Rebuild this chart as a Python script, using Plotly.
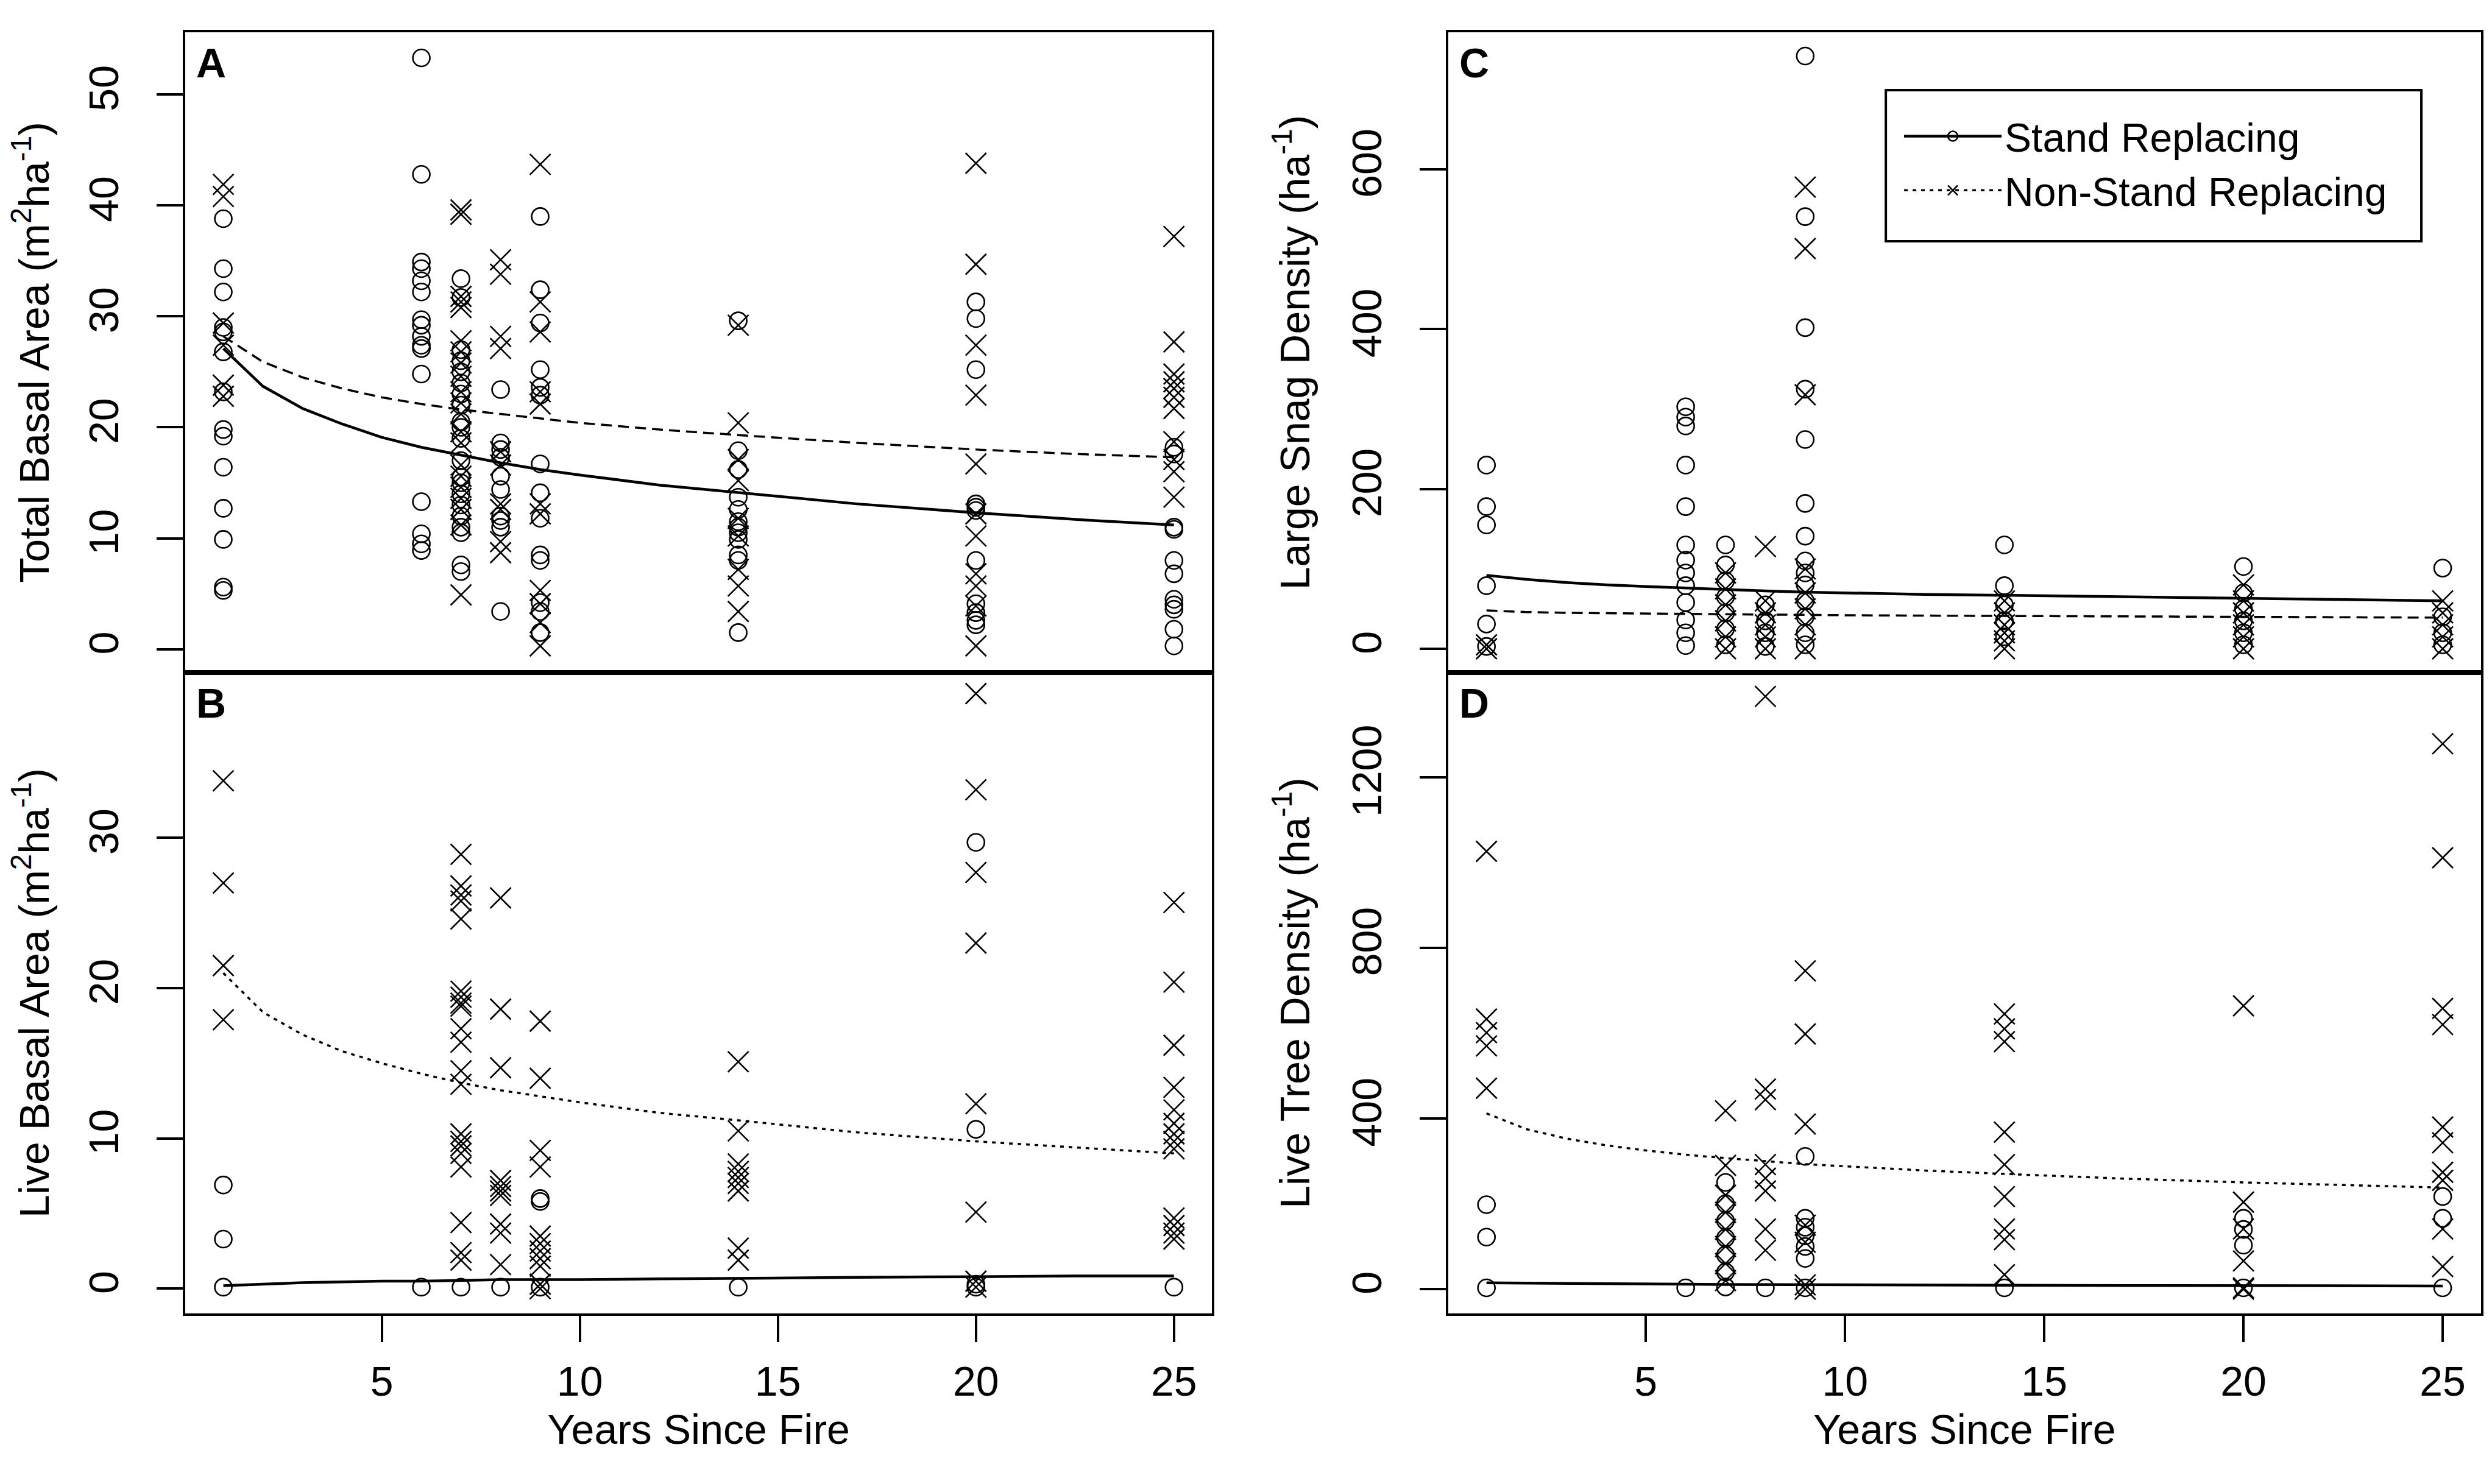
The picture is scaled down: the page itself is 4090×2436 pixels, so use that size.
import plotly.graph_objects as go

fit_years = [1, 2, 3, 4, 5, 6, 7, 8, 9, 10, 12, 14, 17, 20, 22.5, 25]

# A - total basal area (m2/ha)
total_ba_sr = {1: [38.8, 34.3, 32.2, 29.0, 28.6, 26.8, 23.2, 19.8, 19.2, 16.4, 12.7, 9.9, 5.6, 5.3],
               6: [53.3, 42.8, 34.9, 34.3, 33.2, 32.2, 29.7, 29.2, 28.2, 27.4, 27.1, 24.8, 13.3, 10.4, 9.5, 8.9],
               7: [33.4, 31.7, 27.0, 26.0, 25.0, 24.0, 23.0, 22.0, 20.5, 20.0, 19.0, 17.0, 15.5, 15.0, 14.0,
                   13.0, 12.0, 11.0, 10.5, 7.6, 7.0],
               8: [23.4, 18.6, 18.0, 17.3, 15.6, 14.4, 12.0, 11.6, 11.0, 3.4],
               9: [39.0, 32.4, 29.4, 25.2, 23.6, 22.9, 16.7, 14.1, 11.8, 8.5, 8.0, 4.2, 3.4, 1.5],
               14: [29.6, 17.9, 16.2, 13.7, 12.6, 11.5, 11.0, 10.5, 9.9, 8.5, 8.0, 1.5],
               20: [31.3, 29.8, 25.2, 13.1, 12.8, 12.5, 8.0, 4.1, 3.3, 2.6, 2.2],
               25: [18.2, 17.6, 11.0, 10.8, 8.0, 6.8, 4.5, 4.0, 3.6, 1.8, 0.3]}
total_ba_nsr = {1: [41.9, 40.8, 29.4, 27.4, 23.8, 22.8],
                7: [39.6, 39.2, 31.8, 31.3, 30.8, 27.8, 26.8, 25.8, 24.6, 23.2, 22.2, 21.2, 19.6, 18.6, 16.6,
                    15.6, 14.6, 13.6, 12.6, 11.2, 4.9],
                8: [35.1, 33.8, 28.2, 27.1, 17.8, 16.6, 13.1, 12.6, 9.7, 8.7],
                9: [43.7, 31.3, 28.6, 23.2, 22.1, 13.1, 12.2, 5.3, 4.1, 2.4, 0.3],
                14: [29.2, 20.4, 17.1, 15.2, 11.8, 10.2, 7.2, 5.7, 3.4],
                20: [43.8, 34.7, 27.4, 22.9, 16.7, 12.2, 10.2, 6.8, 5.7, 3.9, 0.3],
                25: [37.2, 27.7, 24.8, 24.1, 23.5, 22.7, 21.7, 18.7, 17.1, 16.0, 13.7]}
total_ba_fit_sr = [27.1, 23.7, 21.7, 20.3, 19.1, 18.2, 17.5, 16.8, 16.2, 15.7, 14.8, 14.1, 13.1, 12.3, 11.7, 11.2]
total_ba_fit_nsr = [28.2, 25.9, 24.5, 23.5, 22.7, 22.1, 21.6, 21.2, 20.8, 20.4, 19.8, 19.3, 18.6, 18.0, 17.6, 17.3]

# B - live basal area (m2/ha)
live_ba_sr = {1: [6.9, 3.3, 0.1], 6: [0.1], 7: [0.1], 8: [0.1], 9: [6.0, 5.8, 0.1], 14: [0.1],
              20: [29.7, 10.6, 0.3, 0.1], 25: [0.1]}
live_ba_nsr = {1: [33.8, 27.0, 21.5, 17.9],
               7: [28.9, 26.8, 26.2, 25.8, 24.6, 19.8, 19.4, 19.0, 18.8, 17.3, 16.4, 14.5, 13.6, 10.3, 9.8,
                   9.5, 9.0, 8.1, 4.4, 2.4, 1.9],
               8: [26.0, 18.6, 14.7, 7.2, 6.8, 6.5, 6.2, 4.3, 3.7, 1.6],
               9: [17.8, 14.0, 9.2, 8.1, 3.5, 3.0, 2.5, 2.0, 1.5, 0.3, 0.0],
               14: [15.1, 10.5, 8.3, 7.8, 7.4, 7.0, 6.5, 2.7, 1.9],
               20: [39.6, 33.2, 27.7, 23.0, 12.3, 5.1, 0.5, 0.1],
               25: [25.7, 20.4, 16.2, 13.4, 11.9, 11.0, 10.3, 9.8, 9.3, 4.7, 4.2, 3.7, 3.3]}
live_ba_fit_sr = [0.2, 0.3, 0.4, 0.45, 0.5, 0.5, 0.55, 0.6, 0.6, 0.6, 0.65, 0.7, 0.75, 0.8, 0.85, 0.85]
live_ba_fit_nsr = [21.0, 18.4, 16.9, 15.8, 15.0, 14.3, 13.7, 13.2, 12.8, 12.4, 11.7, 11.2, 10.4, 9.8, 9.4, 9.0]

# C - large snag density (per ha)
snag_sr = {1: [230, 178, 155, 79, 31, 3],
           6: [303, 290, 279, 230, 178, 130, 111, 95, 79, 58, 36, 20, 4],
           7: [130, 105, 85, 65, 45, 25, 5],
           8: [55, 35, 20, 3],
           9: [742, 541, 402, 325, 262, 182, 141, 110, 95, 80, 60, 40, 20, 5],
           14: [130, 79, 55, 35, 15],
           20: [103, 70, 50, 35, 20, 5],
           25: [101, 40, 20, 5]}
snag_nsr = {1: [5, 0],
            7: [95, 75, 55, 35, 15, 0],
            8: [128, 60, 45, 30, 15, 0],
            9: [578, 501, 318, 100, 70, 50, 30, 0],
            14: [60, 45, 30, 20, 10, 0],
            20: [80, 60, 45, 30, 15, 0],
            25: [60, 45, 30, 15, 0]}
snag_fit_sr = [92, 87, 83, 80, 78, 76, 74, 72.5, 71, 70, 68, 67, 65, 63, 61.5, 60]
snag_fit_nsr = [48, 46, 45, 44.5, 44, 43.5, 43, 43, 42.5, 42, 41.5, 41, 40.5, 40, 39.5, 39]

# D - live tree density (per ha)
tree_sr = {1: [198, 122, 3], 6: [3], 7: [250, 200, 160, 120, 80, 40, 5], 8: [3],
           9: [311, 166, 145, 125, 100, 72, 3], 14: [3], 20: [166, 140, 103, 3], 25: [217, 166, 3]}
tree_nsr = {1: [1026, 633, 601, 570, 471],
            7: [418, 290, 220, 180, 140, 100, 60, 20],
            8: [1389, 469, 444, 292, 260, 230, 141, 91],
            9: [746, 598, 387, 150, 110, 10, 0],
            14: [645, 610, 580, 368, 292, 217, 141, 116, 34],
            20: [664, 204, 141, 66, 3, 0],
            25: [1278, 1011, 658, 620, 380, 343, 274, 255, 141, 53]}
tree_fit_sr = [15, 14, 13, 12.5, 12, 11.5, 11, 10.5, 10.5, 10, 9.5, 9, 8.5, 8, 8, 7.5]
tree_fit_nsr = [412, 375, 353, 337, 325, 315, 307, 300, 293, 288, 278, 270, 259, 250, 244, 238]

x_ticks = [5, 10, 15, 20, 25]
series_names = ["Stand Replacing", "Non-Stand Replacing"]


def flatten(points):
    xs, ys = [], []
    for yr, vals in points.items():
        xs += [yr] * len(vals)
        ys += vals
    return xs, ys


FONT = "Liberation Sans, Arial, sans-serif"
FS = 68
LW = 4

panels = [
    # axis suffix, label, title, sr pts, nsr pts, sr fit, nsr fit, y range, y ticks, x domain, y domain, dash
    ("", "A", "Total Basal Area (m<sup>2</sup>ha<sup>-1</sup>)", total_ba_sr, total_ba_nsr,
     total_ba_fit_sr, total_ba_fit_nsr, [-2.1, 55.6], [0, 10, 20, 30, 40, 50],
     [0.0724, 0.4844], [0.5501, 0.9815], "18px,10px"),
    ("2", "B", "Live Basal Area (m<sup>2</sup>ha<sup>-1</sup>)", live_ba_sr, live_ba_nsr,
     live_ba_fit_sr, live_ba_fit_nsr, [-1.65, 41.0], [0, 10, 20, 30],
     [0.0724, 0.4844], [0.1182, 0.5501], "6px,8px"),
    ("3", "C", "Large Snag Density (ha<sup>-1</sup>)", snag_sr, snag_nsr,
     snag_fit_sr, snag_fit_nsr, [-29.7, 771.7], [0, 200, 400, 600],
     [0.5792, 0.9936], [0.5501, 0.9815], "18px,10px"),
    ("4", "D", "Live Tree Density (ha<sup>-1</sup>)", tree_sr, tree_nsr,
     tree_fit_sr, tree_fit_nsr, [-57, 1445], [0, 400, 800, 1200],
     [0.5792, 0.9936], [0.1182, 0.5501], "6px,8px"),
]

fig = go.Figure()
layout = dict(width=4090, height=2436, margin=dict(l=0, r=0, t=0, b=0),
              paper_bgcolor="white", plot_bgcolor="white",
              font=dict(family=FONT, size=FS, color="black"), annotations=[], shapes=[])

circle = dict(symbol="circle-open", size=28, color="black", line=dict(width=2.6, color="black"))
cross = dict(symbol="x-thin-open", size=34, color="black", line=dict(width=2.6, color="black"))

for suf, lab, title, sr, nsr, fsr, fnsr, yr, yt, xdom, ydom, dash in panels:
    xa, ya = "x" + suf, "y" + suf
    bottom = suf in ("2", "4")
    sx, sy = flatten(sr)
    nx, ny = flatten(nsr)
    fig.add_trace(go.Scatter(x=sx, y=sy, mode="markers", marker=circle, xaxis=xa, yaxis=ya,
                             showlegend=False, cliponaxis=False))
    fig.add_trace(go.Scatter(x=nx, y=ny, mode="markers", marker=cross, xaxis=xa, yaxis=ya,
                             showlegend=False, cliponaxis=False))
    fig.add_trace(go.Scatter(x=fit_years, y=fsr, mode="lines", line=dict(color="black", width=4.5),
                             xaxis=xa, yaxis=ya, showlegend=False))
    fig.add_trace(go.Scatter(x=fit_years, y=fnsr, mode="lines",
                             line=dict(color="black", width=3.5, dash=dash),
                             xaxis=xa, yaxis=ya, showlegend=False))

    xaxis = dict(
        domain=xdom, range=[0.04, 25.96], anchor=ya, showgrid=False, zeroline=False,
        showline=True, mirror=True, linecolor="black", linewidth=LW,
    )
    if bottom:
        xaxis.update(tickvals=x_ticks, ticks="outside", ticklen=43, tickwidth=LW, tickcolor="black",
                     ticklabelstandoff=6, tickfont=dict(size=FS, family=FONT),
                     title=dict(text="Years Since Fire", font=dict(size=FS, family=FONT), standoff=20))
    else:
        xaxis.update(showticklabels=False, ticks="")
    layout["xaxis" + suf] = xaxis
    layout["yaxis" + suf] = dict(
        domain=ydom, range=yr, anchor=xa, showgrid=False, zeroline=False,
        showline=True, mirror=True, linecolor="black", linewidth=LW,
        tickvals=yt, ticks="outside", ticklen=43, tickwidth=LW, tickcolor="black",
        tickangle=-90, ticklabelstandoff=36, tickfont=dict(size=FS, family=FONT),
        title=dict(text=title, font=dict(size=FS, family=FONT), standoff=34),
    )
    layout["annotations"].append(dict(
        text="<b>%s</b>" % lab, xref=xa + " domain", yref=ya + " domain", x=0, y=1,
        xanchor="left", yanchor="top", xshift=16, yshift=-10, showarrow=False,
        font=dict(size=FS, family=FONT, color="black")))

# legend entries (shown in panel C)
fig.add_trace(go.Scatter(x=[None], y=[None], mode="lines+markers", name=series_names[0],
                         line=dict(color="black", width=4.5), marker=circle,
                         xaxis="x3", yaxis="y3"))
fig.add_trace(go.Scatter(x=[None], y=[None], mode="lines+markers", name=series_names[1],
                         line=dict(color="black", width=3.5, dash="6px,8px"), marker=cross,
                         xaxis="x3", yaxis="y3"))

layout["legend"] = dict(x=0.7609, y=0.9318, xanchor="left", yanchor="top",
                        bgcolor="rgba(0,0,0,0)", borderwidth=0,
                        font=dict(size=66, family=FONT), itemwidth=160, tracegroupgap=0)
layout["showlegend"] = True
# frame around the legend, as in the original
layout["shapes"].append(dict(type="rect", xref="paper", yref="paper",
                             x0=0.7548, x1=0.9697, y0=0.8407, y1=0.9425,
                             line=dict(color="black", width=4), fillcolor="rgba(0,0,0,0)"))

fig.update_layout(**layout)
fig.write_html("out.html")
